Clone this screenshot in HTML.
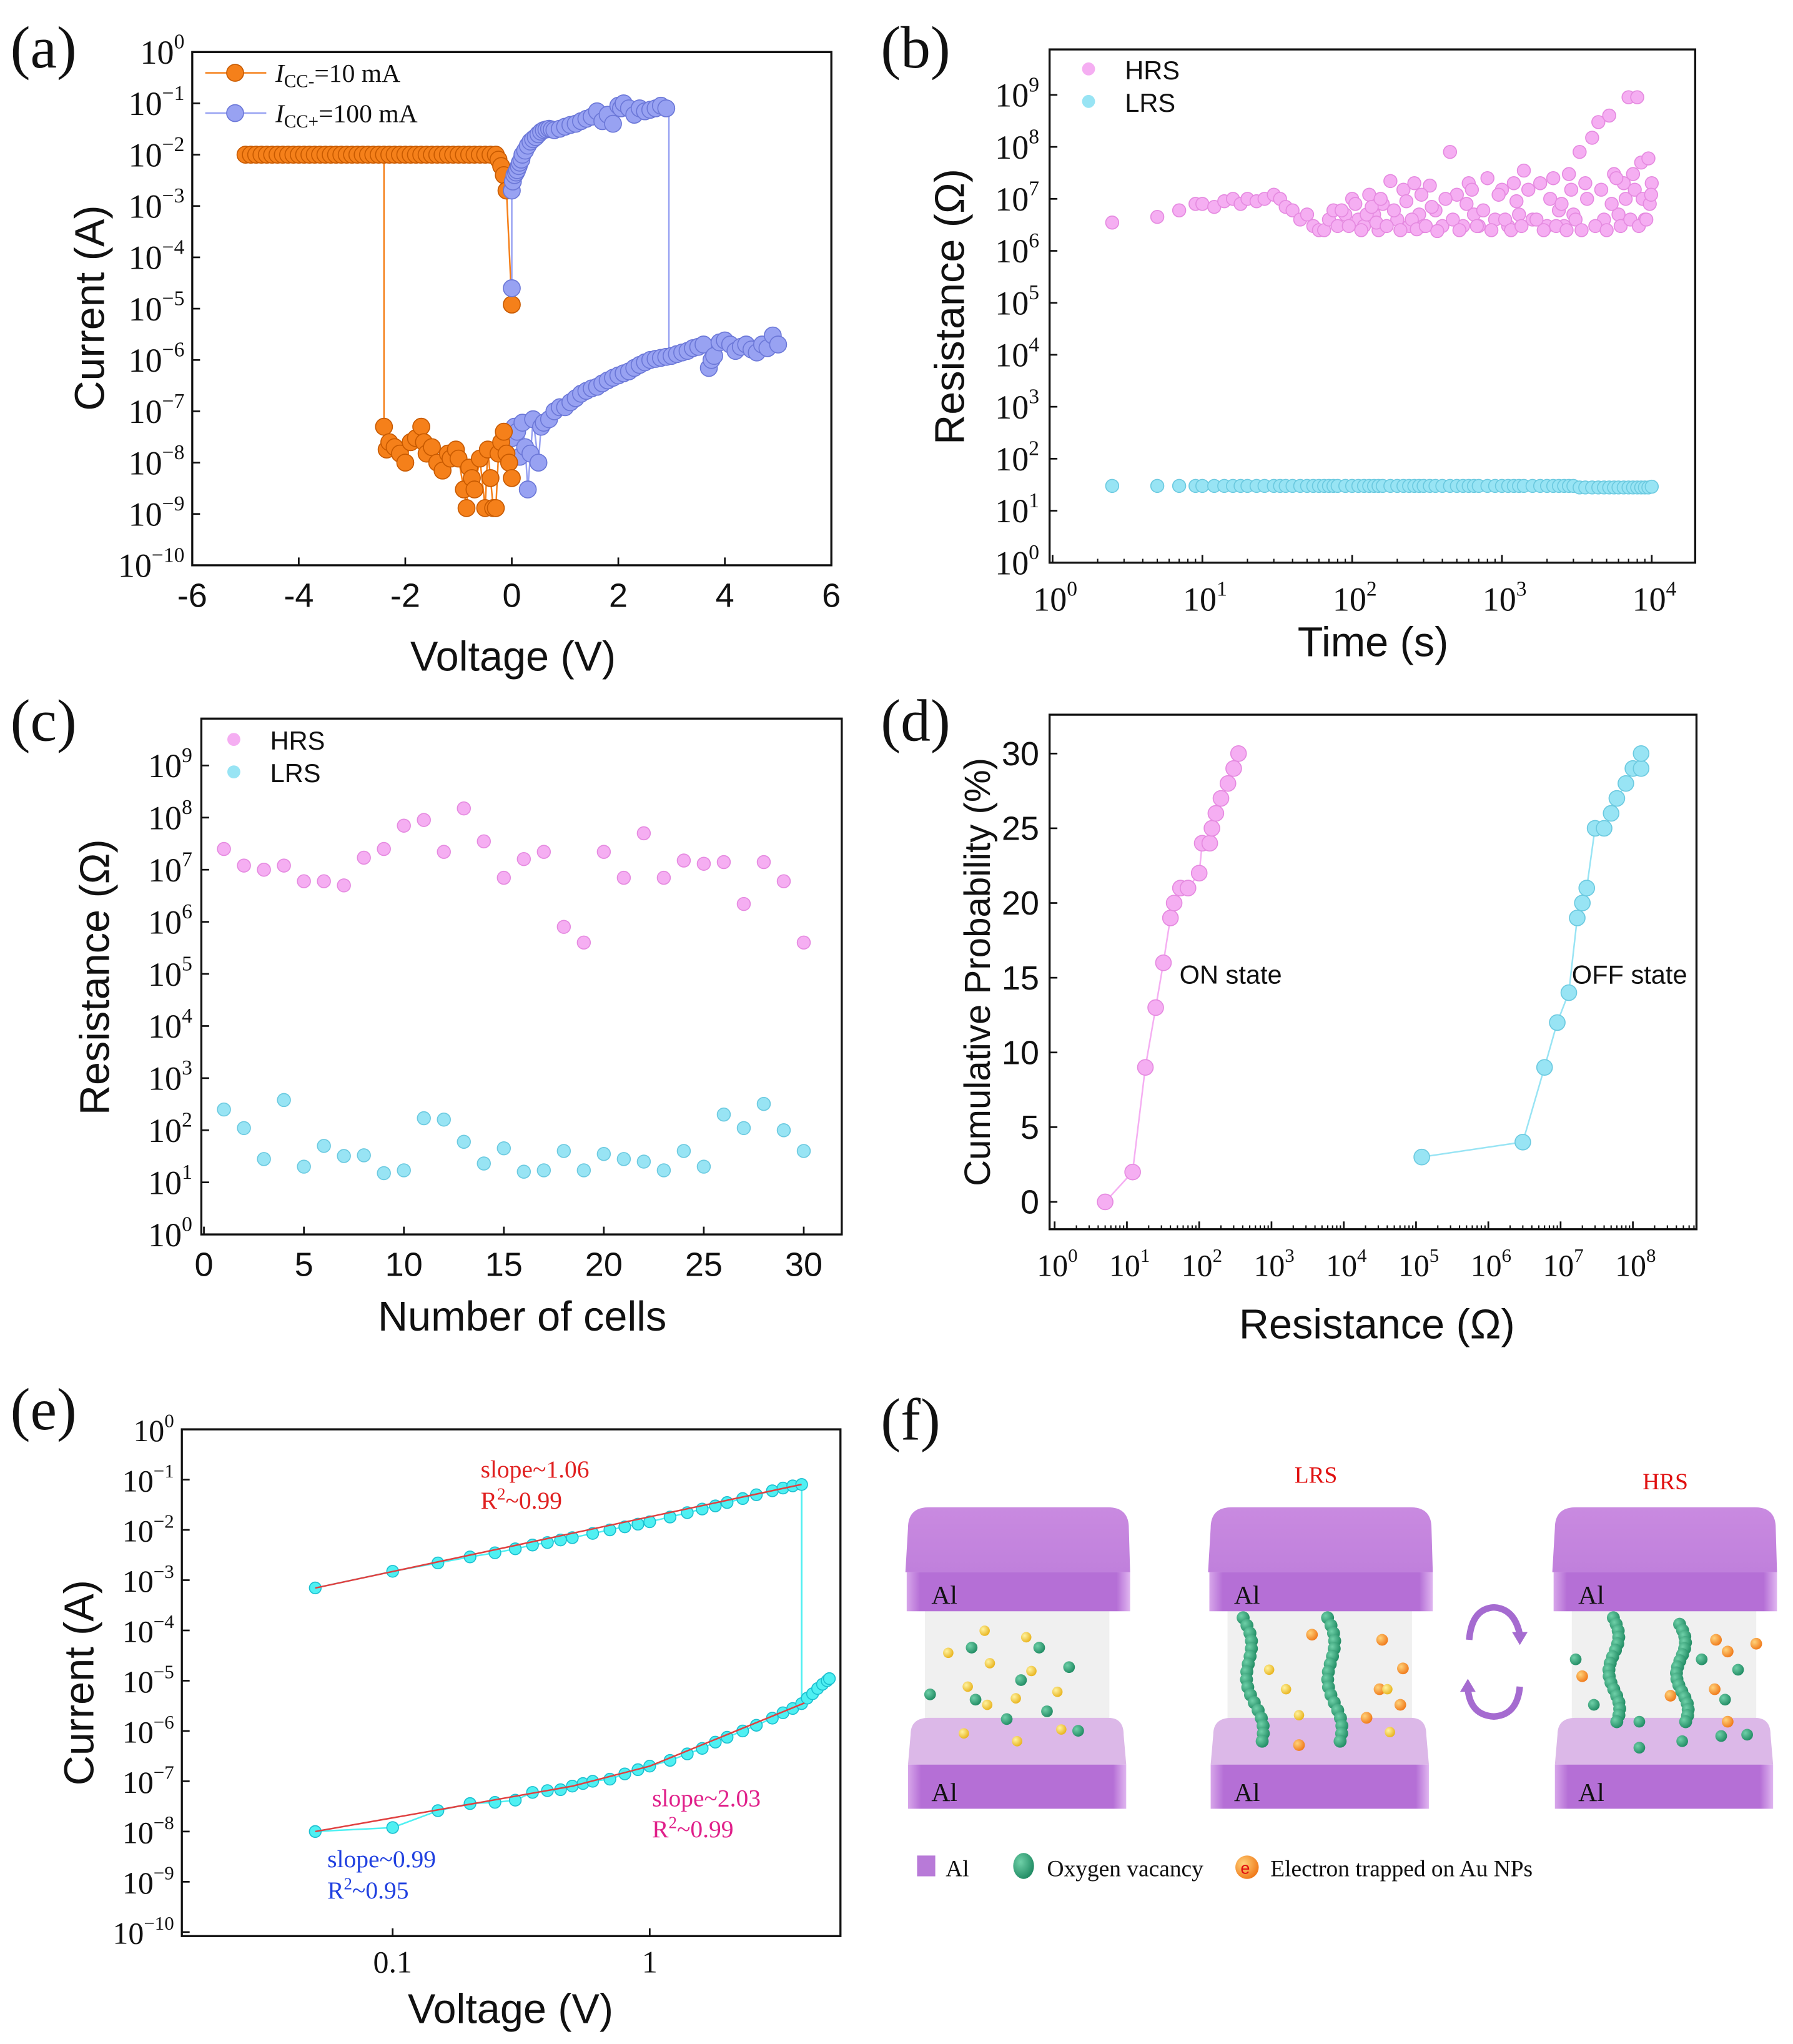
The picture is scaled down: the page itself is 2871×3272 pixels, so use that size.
<!DOCTYPE html>
<html><head><meta charset="utf-8">
<style>
html,body{margin:0;padding:0;background:#fff;}
svg{display:block;}
</style></head>
<body>
<svg id="fig" xmlns="http://www.w3.org/2000/svg" width="2871" height="3272" viewBox="0 0 1380.3 1573" font-family="'Liberation Sans',sans-serif">
<defs>
<linearGradient id="capTop" x1="0" y1="0" x2="0" y2="1"><stop offset="0" stop-color="#c98ae0"/><stop offset="1" stop-color="#c080dc"/></linearGradient>
<linearGradient id="capFront" x1="0" y1="0" x2="1" y2="0"><stop offset="0" stop-color="#d7a6ea"/><stop offset="0.06" stop-color="#b56fd6"/><stop offset="0.94" stop-color="#b56fd6"/><stop offset="1" stop-color="#e0b6f0"/></linearGradient>
<radialGradient id="gball" cx="0.35" cy="0.35" r="0.7"><stop offset="0" stop-color="#6fd0a8"/><stop offset="1" stop-color="#1f8a62"/></radialGradient>
<radialGradient id="yball" cx="0.35" cy="0.35" r="0.7"><stop offset="0" stop-color="#fff3a0"/><stop offset="1" stop-color="#e8b21a"/></radialGradient>
<radialGradient id="oball" cx="0.35" cy="0.35" r="0.7"><stop offset="0" stop-color="#ffd27a"/><stop offset="1" stop-color="#f07818"/></radialGradient>
</defs>
</svg>
<script>
// ---------------- DATA ----------------
// (a)
const aOrangeV = [-5,-4.9,-4.8,-4.7,-4.6,-4.5,-4.4,-4.3,-4.2,-4.1,-4,-3.9,-3.8,-3.7,-3.6,-3.5,-3.4,-3.3,-3.2,-3.1,-3,-2.9,-2.8,-2.7,-2.6,-2.5,-2.4,-2.3,-2.2,-2.1,-2,-1.9,-1.8,-1.7,-1.6,-1.5,-1.4,-1.3,-1.2,-1.1,-1,-0.9,-0.8,-0.7,-0.6,-0.5,-0.4,-0.3,-0.25,-0.2,-0.15,-0.1,0];
const aOrangeI = [1e-2,1e-2,1e-2,1e-2,1e-2,1e-2,1e-2,1e-2,1e-2,1e-2,1e-2,1e-2,1e-2,1e-2,1e-2,1e-2,1e-2,1e-2,1e-2,1e-2,1e-2,1e-2,1e-2,1e-2,1e-2,1e-2,1e-2,1e-2,1e-2,1e-2,1e-2,1e-2,1e-2,1e-2,1e-2,1e-2,1e-2,1e-2,1e-2,1e-2,1e-2,1e-2,1e-2,1e-2,1e-2,1e-2,1e-2,1e-2,8e-3,6e-3,4e-3,2e-3,1.2e-5];
const aOrangeLowV = [-2.4,-2.35,-2.3,-2.2,-2.1,-2.0,-1.9,-1.8,-1.7,-1.65,-1.6,-1.5,-1.4,-1.3,-1.2,-1.15,-1.05,-1.0,-0.9,-0.85,-0.8,-0.75,-0.7,-0.6,-0.5,-0.45,-0.4,-0.35,-0.3,-0.25,-0.2,-0.15,-0.1,-0.05,0];
const aOrangeLowI = [5e-8,1.8e-8,2.5e-8,2e-8,1.5e-8,1e-8,2.5e-8,3e-8,5e-8,2.5e-8,1.5e-8,2e-8,1e-8,7e-9,1.5e-8,1.2e-8,1.8e-8,1.2e-8,3e-9,1.3e-9,8e-9,5e-9,3e-9,1.2e-8,1.3e-9,1.8e-8,5e-9,1.3e-9,1.3e-9,1.5e-8,2.5e-8,4e-8,1.5e-8,1e-8,5e-9];
const aBlueUpV = [0,0,0.02,0.05,0.08,0.1,0.13,0.15,0.18,0.2,0.25,0.3,0.35,0.4,0.45,0.5,0.55,0.6,0.65,0.7,0.75,0.8,0.9,1.0,1.1,1.2,1.3,1.4,1.5,1.6,1.7,1.8,1.9,2.0,2.05,2.1,2.2,2.3,2.4,2.5,2.6,2.7,2.8,2.9];
const aBlueUpI = [2.5e-5,2e-3,3e-3,4e-3,4.5e-3,5e-3,6e-3,7e-3,8e-3,1e-2,1.2e-2,1.5e-2,1.8e-2,2e-2,2.2e-2,2.5e-2,2.8e-2,3e-2,3.1e-2,3.2e-2,3.1e-2,3e-2,3.2e-2,3.5e-2,3.8e-2,4e-2,4.5e-2,5e-2,5.5e-2,7e-2,4.5e-2,6e-2,4e-2,9e-2,8e-2,1e-1,8e-2,6e-2,8e-2,7e-2,7.5e-2,8e-2,9e-2,8e-2];
const aBlueLowV = [0,0.05,0.1,0.15,0.2,0.25,0.3,0.35,0.4,0.5,0.55,0.6,0.7,0.8,0.9,1.0,1.1,1.2,1.3,1.4,1.5,1.6,1.7,1.8,1.9,2.0,2.1,2.2,2.3,2.4,2.5,2.6,2.7,2.8,2.9,3.0,3.1,3.2,3.3,3.4,3.5,3.6,3.7,3.75,3.8,3.9,4.0,4.1,4.2,4.3,4.4,4.5,4.6,4.7,4.8,4.9,5.0];
const aBlueLowI = [3e-8,5e-8,4e-8,1.3e-8,6e-8,2e-8,3e-9,1.5e-8,7e-8,1e-8,5e-8,6e-8,7e-8,1e-7,1.2e-7,1.2e-7,1.5e-7,1.8e-7,2.2e-7,2.5e-7,2.8e-7,3e-7,3.5e-7,4e-7,4.5e-7,5e-7,5.5e-7,6e-7,7e-7,8e-7,9e-7,1e-6,1.05e-6,1.1e-6,1.15e-6,1.2e-6,1.3e-6,1.4e-6,1.5e-6,1.7e-6,1.8e-6,2e-6,7e-7,1e-6,1.2e-6,2.2e-6,2.4e-6,2e-6,1.5e-6,1.8e-6,2e-6,1.6e-6,1.4e-6,2e-6,1.7e-6,3e-6,2e-6];
// (b)
const bTime = [2.5,5,7,9,10,12,14,16,18,20,23,26,30,33,36,40,45,50,55,60,65,70,75,80,90,100,110,120,130,140,150,160,180,200,220,240,260,280,300,330,360,400,450,500,550,600,650,700,800,900,1000,1100,1200,1300,1400,1600,1800,2000,2200,2400,2600,2800,3000,3300,3600,4000,4400,4800,5200,5600,6000,6500,7000,7500,8000,8500,9000,9500,10000];
const bHRS = [3.5e6,4.5e6,6e6,8e6,8e6,7e6,9e6,1e7,8e6,1e7,9e6,1e7,1.2e7,1e7,7e6,6e6,4e6,5e6,3e6,2.5e6,2.5e6,4e6,6e6,3e6,5e6,1e7,4e6,3e6,1.2e7,5e6,2.5e6,8e6,2.2e7,4e6,1.5e7,3e6,2e7,5e6,3e6,1.8e7,6e6,3e6,8e7,1.2e7,3e6,2e7,5e6,3e6,2.5e7,4e6,1.5e7,3e6,2e7,5e6,3.5e7,4e6,2e7,3e6,2.5e7,6e6,3e6,3e7,5e6,8e7,2e7,1.5e8,3e8,4e6,4e8,3e7,5e6,2e7,9e8,3e7,9e8,5e7,4e6,6e7,2e7];
const bTime2 = [85,95,105,115,125,135,145,155,170,190,210,230,250,270,290,310,340,370,420,470,520,580,630,680,750,850,950,1050,1150,1250,1350,1500,1700,1900,2100,2300,2500,2700,2900,3100,3400,3700,4200,4600,5000,5400,5800,6200,6700,7200,7700,8200,8700,9200,9700,9900];
const bHRS2 = [6e6,3e6,8e6,2.5e6,5e6,7e6,3.5e6,1e7,3e6,6e6,2.5e6,9e6,4e6,2.6e6,1.2e7,3e6,7e6,2.4e6,1e7,4e6,2.5e6,8e6,1.5e7,3e6,6e6,2.5e6,1.2e7,4e6,2.5e6,9e6,3e6,1.5e7,4e6,2.5e6,1e7,3e6,8e6,2.5e6,1.5e7,4e6,2.5e6,1e7,3e6,1.5e7,2.5e6,8e6,2.5e7,3e6,1e7,4e6,1.5e7,3e6,1e7,4e6,8e6,1.2e7];
const bLRS = [30,30,30,30,30,30,30,30,30,30,30,30,30,30,30,30,30,30,30,30,30,30,30,30,30,30,30,30,30,30,30,30,30,30,30,30,30,30,30,30,30,30,30,30,30,30,30,30,30,30,30,30,30,30,30,30,30,30,30,30,30,30,30,28,28,28,28,28,28,28,28,28,28,28,28,28,28,28,29];
// (c)
const cCells = [1,2,3,4,5,6,7,8,9,10,11,12,13,14,15,16,17,18,19,20,21,22,23,24,25,26,27,28,29,30];
const cHRS = [2.5e7,1.2e7,1e7,1.2e7,6e6,6e6,5e6,1.7e7,2.5e7,7e7,9e7,2.2e7,1.5e8,3.5e7,7e6,1.6e7,2.2e7,8e5,4e5,2.2e7,7e6,5e7,7e6,1.5e7,1.3e7,1.4e7,2.2e6,1.4e7,6e6,4e5];
const cLRS = [250,110,28,380,20,50,32,33,15,17,170,160,60,23,45,16,17,40,17,35,28,25,17,40,20,200,110,320,100,40];
// (d)
const dOnR = [5,12,18,25,32,40,45,55,70,100,110,140,150,170,200,250,300,350];
const dOnP = [0,2,9,13,16,19,20,21,21,22,24,24,25,26,27,28,29,30];
const dOffR = [1.2e5,3e6,6e6,9e6,1.3e7,1.7e7,2e7,2.3e7,3e7,4e7,5e7,6e7,8e7,1e8,1.3e8,1.3e8];
const dOffP = [3,4,9,12,14,19,20,21,25,25,26,27,28,29,29,30];
// (e)
const eUpV = [0.05,0.1,0.15,0.2,0.25,0.3,0.35,0.4,0.45,0.5,0.6,0.7,0.8,0.9,1.0,1.2,1.4,1.6,1.8,2.0,2.3,2.6,3.0,3.3,3.6,3.9];
const eUpI = [7e-4,1.5e-3,2.2e-3,2.9e-3,3.5e-3,4.2e-3,5e-3,5.6e-3,6.3e-3,7e-3,8.5e-3,1e-2,1.15e-2,1.3e-2,1.45e-2,1.8e-2,2.2e-2,2.6e-2,3e-2,3.5e-2,4.2e-2,5e-2,6e-2,6.8e-2,7.5e-2,8e-2];
const eLowV = [0.05,0.1,0.15,0.2,0.25,0.3,0.35,0.4,0.45,0.5,0.55,0.6,0.7,0.8,0.9,1.0,1.2,1.4,1.6,1.8,2.0,2.3,2.6,3.0,3.3,3.6,3.9,4.1,4.3,4.5,4.7,4.9,5.0];
const eLowI = [1e-8,1.2e-8,2.6e-8,3.6e-8,3.8e-8,4.2e-8,6e-8,6.5e-8,6.8e-8,8e-8,9e-8,1e-7,1.1e-7,1.4e-7,1.7e-7,2e-7,2.6e-7,3.5e-7,4.5e-7,6e-7,7.5e-7,1e-6,1.3e-6,1.8e-6,2.3e-6,2.8e-6,3.5e-6,4.5e-6,5.5e-6,7e-6,8.5e-6,1e-5,1.1e-5];
const eFitUpV = [0.05,3.9];
const eFitUpI = [7e-4,8e-2];
const eFitLowV = [0.05,0.5,1,4];
const eFitLowI = [1e-8,8e-8,2e-7,3.6e-6];

// ---------------- HELPERS ----------------
const NS = "http://www.w3.org/2000/svg";
const svg = document.getElementById('fig');
const SERIF = "'Liberation Serif',serif";
function mk(tag, attrs, parent, name, inter) {
  const el = document.createElementNS(NS, tag);
  for (const k in attrs) el.setAttribute(k, attrs[k]);
  
  
  (parent || svg).appendChild(el);
  return el;
}
function txt(s, x, y, size, parent, name, extra) {
  const a = Object.assign({x: x, y: y, 'font-size': size, fill: '#111'}, extra || {});
  const t = mk('text', a, parent, name);
  t.textContent = s;
  return t;
}
function pow10(exp, x, y, size, parent, name, anchor) {
  const t = mk('text', {x: x, y: y, 'font-size': size, fill: '#111', 'text-anchor': anchor || 'end', 'font-family': SERIF}, parent, name);
  const a = document.createElementNS(NS, 'tspan'); a.textContent = '10'; t.appendChild(a);
  const b = document.createElementNS(NS, 'tspan');
  b.setAttribute('dy', -size * 0.45); b.setAttribute('font-size', size * 0.62);
  b.textContent = exp < 0 ? '\u2212' + (-exp) : String(exp); t.appendChild(b);
  return t;
}
function makeAxes(c) {
  const lg = v => Math.log10(v);
  c.sx = v => c.x0 + ((c.xlog ? lg(v) : v) - c.xmin) / (c.xmax - c.xmin) * (c.x1 - c.x0);
  c.sy = v => c.y1 - ((c.ylog ? lg(v) : v) - c.ymin) / (c.ymax - c.ymin) * (c.y1 - c.y0);
  c.g = mk('g', {}, svg, c.name);
  mk('rect', {x: c.x0, y: c.y0, width: c.x1 - c.x0, height: c.y1 - c.y0, fill: 'none', stroke: '#111', 'stroke-width': 1.6}, c.g, c.name + '-frame');
  return c;
}
function series(c, xs, ys, color, stroke, r, name, line) {
  const g = mk('g', {}, c.g, name);
  if (line) {
    let d = '';
    xs.forEach((x, i) => { d += (i ? 'L' : 'M') + c.sx(x).toFixed(1) + ' ' + c.sy(ys[i]).toFixed(1); });
    mk('path', {d: d, fill: 'none', stroke: line, 'stroke-width': 1.2}, g, name + '-line');
  }
  xs.forEach((x, i) => {
    mk('circle', {cx: c.sx(x), cy: c.sy(ys[i]), r: r, fill: color, stroke: stroke, 'stroke-width': 0.8}, g, name + '-point');
  });
  return g;
}
function logYTicks(c, from, to, step, lx, size) {
  for (let e = from; e <= to; e += step) {
    const y = c.sy(Math.pow(10, e));
    mk('line', {x1: c.x0, x2: c.x0 + 6, y1: y, y2: y, stroke: '#111', 'stroke-width': 1.3}, c.g, 'y-tick');
    pow10(e, lx, y + 9, size, c.g, 'y-tick-label');
  }
}
function linXTicks(c, vals, size, ly) {
  vals.forEach(v => {
    const x = c.sx(v);
    mk('line', {x1: x, x2: x, y1: c.y1, y2: c.y1 - 6, stroke: '#111', 'stroke-width': 1.3}, c.g, 'x-tick');
    txt(v < 0 ? '-' + (-v) : String(v), x, ly, size, c.g, 'x-tick-label', {'text-anchor': 'middle'});
  });
}
function logXTicks(c, from, to, size, ly) {
  for (let e = from; e <= to; e++) {
    const x = c.sx(Math.pow(10, e));
    mk('line', {x1: x, x2: x, y1: c.y1, y2: c.y1 - 6, stroke: '#111', 'stroke-width': 1.3}, c.g, 'x-tick');
    for (let m = 2; m < 10; m++) {
      const xm = c.sx(m * Math.pow(10, e));
      if (xm < c.x1) mk('line', {x1: xm, x2: xm, y1: c.y1, y2: c.y1 - 3, stroke: '#111', 'stroke-width': 1}, c.g, 'x-minor-tick');
    }
    pow10(e, x + 2, ly, size, c.g, 'x-tick-label', 'middle');
  }
}
function title(s, x, y, size, rot, name, parent) {
  const extra = {'text-anchor': 'middle'};
  if (rot) extra.transform = 'rotate(-90 ' + x + ' ' + y + ')';
  return txt(s, x, y, size, parent || svg, name, extra);
}
function panelLabel(s, x, y) {
  txt(s, x, y, 46, svg, 'panel-label-' + s.replace(/[()]/g, ''), {'font-family': SERIF});
}

const OR = '#f5801a', ORs = '#c85a00', BL = '#98a2f2', BLs = '#6c78d8', PK = '#f5aef2', PKs = '#e58ae0', CY = '#98e4f4', CYs = '#6ccae0', EC = '#4ff0f2', ECs = '#1cc0d0';

// ---------------- PANEL A ----------------
const A = makeAxes({name: 'panel-a-iv-chart', x0: 148, x1: 640, y0: 40, y1: 435, xmin: -6, xmax: 6, xlog: false, ymin: -10, ymax: 0, ylog: true});
logYTicks(A, -10, 0, 1, 142, 26);
linXTicks(A, [-6, -4, -2, 0, 2, 4, 6], 26, 467);
mk('line', {x1: A.sx(-2.4), x2: A.sx(-2.4), y1: A.sy(1e-2), y2: A.sy(5e-8), stroke: OR, 'stroke-width': 1.2}, A.g, 'reset-transition-line');
mk('line', {x1: A.sx(2.95), x2: A.sx(2.95), y1: A.sy(8e-2), y2: A.sy(1e-6), stroke: BL, 'stroke-width': 1.2}, A.g, 'set-transition-line');
series(A, aBlueLowV, aBlueLowI, BL, BLs, 6.5, 'series-100ma-low', BL);
series(A, aOrangeLowV, aOrangeLowI, OR, ORs, 6.5, 'series-10ma-low', OR);
series(A, aOrangeV, aOrangeI, OR, ORs, 6.5, 'series-10ma-high', OR);
series(A, aBlueUpV, aBlueUpI, BL, BLs, 6.5, 'series-100ma-high', BL);
(function () {
  const g = mk('g', {}, A.g, 'legend');
  [[56, OR, ORs, '=10 mA', 'CC-'], [87, BL, BLs, '=100 mA', 'CC+']].forEach(r => {
    mk('line', {x1: 158, x2: 205, y1: r[0], y2: r[0], stroke: r[1], 'stroke-width': 1.2}, g, 'legend-line');
    mk('circle', {cx: 181, cy: r[0], r: 6.5, fill: r[1], stroke: r[2], 'stroke-width': 0.8}, g, 'legend-marker');
    const t = mk('text', {x: 212, y: r[0] + 7, 'font-size': 20, fill: '#111', 'font-family': SERIF}, g, 'legend-entry');
    const s1 = document.createElementNS(NS, 'tspan'); s1.setAttribute('font-style', 'italic'); s1.textContent = 'I'; t.appendChild(s1);
    const s2 = document.createElementNS(NS, 'tspan'); s2.setAttribute('font-size', 14); s2.setAttribute('dy', 4); s2.textContent = r[4]; t.appendChild(s2);
    const s3 = document.createElementNS(NS, 'tspan'); s3.setAttribute('dy', -4); s3.textContent = r[3]; t.appendChild(s3);
  });
})();
title('Voltage (V)', 395, 516, 32, false, 'x-axis-title-a');
title('Current (A)', 80, 237, 32, true, 'y-axis-title-a');
panelLabel('(a)', 8, 52);

// ---------------- PANEL B ----------------
const B = makeAxes({name: 'panel-b-retention-chart', x0: 808, x1: 1305, y0: 38, y1: 433, xmin: -0.02, xmax: 4.29, xlog: true, ymin: 0, ymax: 9.875, ylog: true});
logYTicks(B, 0, 9, 1, 800, 26);
logXTicks(B, 0, 4, 26, 470);
series(B, bTime, bLRS, CY, CYs, 5, 'series-lrs-retention');
series(B, bTime, bHRS, PK, PKs, 5, 'series-hrs-retention');
series(B, bTime2, bHRS2, PK, PKs, 5, 'series-hrs-retention-extra');
(function () {
  const g = mk('g', {}, B.g, 'legend');
  mk('circle', {cx: 838, cy: 53, r: 5, fill: PK}, g, 'legend-marker-hrs');
  txt('HRS', 866, 61, 20, g, 'legend-entry-hrs');
  mk('circle', {cx: 838, cy: 78, r: 5, fill: CY}, g, 'legend-marker-lrs');
  txt('LRS', 866, 86, 20, g, 'legend-entry-lrs');
})();
title('Time (s)', 1057, 505, 32, false, 'x-axis-title-b');
title('Resistance (\u03A9)', 742, 236, 32, true, 'y-axis-title-b');
panelLabel('(b)', 678, 52);

// ---------------- PANEL C ----------------
const C = makeAxes({name: 'panel-c-cell-variation-chart', x0: 155, x1: 648, y0: 553, y1: 950, xmin: -0.13, xmax: 31.9, xlog: false, ymin: 0, ymax: 9.9, ylog: true});
logYTicks(C, 0, 9, 1, 148, 26);
linXTicks(C, [0, 5, 10, 15, 20, 25, 30], 26, 982);
series(C, cCells, cHRS, PK, PKs, 5, 'series-hrs-cells');
series(C, cCells, cLRS, CY, CYs, 5, 'series-lrs-cells');
(function () {
  const g = mk('g', {}, C.g, 'legend');
  mk('circle', {cx: 180, cy: 569, r: 5, fill: PK}, g, 'legend-marker-hrs');
  txt('HRS', 208, 577, 20, g, 'legend-entry-hrs');
  mk('circle', {cx: 180, cy: 594, r: 5, fill: CY}, g, 'legend-marker-lrs');
  txt('LRS', 208, 602, 20, g, 'legend-entry-lrs');
})();
title('Number of cells', 402, 1024, 32, false, 'x-axis-title-c');
title('Resistance (\u03A9)', 84, 752, 32, true, 'y-axis-title-c');
panelLabel('(c)', 8, 570);

// ---------------- PANEL D ----------------
const D = makeAxes({name: 'panel-d-cumulative-chart', x0: 808, x1: 1306, y0: 550, y1: 946, xmin: -0.07, xmax: 8.88, xlog: true, ymin: -1.83, ymax: 32.6, ylog: false});
[0, 5, 10, 15, 20, 25, 30].forEach(v => {
  const y = D.sy(v);
  mk('line', {x1: D.x0, x2: D.x0 + 6, y1: y, y2: y, stroke: '#111', 'stroke-width': 1.3}, D.g, 'y-tick');
  txt(String(v), 800, y + 9, 26, D.g, 'y-tick-label', {'text-anchor': 'end'});
});
logXTicks(D, 0, 8, 24, 982);
series(D, dOnR, dOnP, PK, PKs, 6, 'series-on-state', PK);
series(D, dOffR, dOffP, CY, CYs, 6, 'series-off-state', CY);
txt('ON state', 908, 757, 20, D.g, 'annotation-on-state');
txt('OFF state', 1210, 757, 20, D.g, 'annotation-off-state');
title('Resistance (\u03A9)', 1060, 1030, 32, false, 'x-axis-title-d');
title('Cumulative Probability (%)', 762, 748, 28, true, 'y-axis-title-d');
panelLabel('(d)', 678, 570);

// ---------------- PANEL E ----------------
const E = makeAxes({name: 'panel-e-fitting-chart', x0: 140, x1: 647, y0: 1100, y1: 1490, xmin: -1.82, xmax: 0.742, xlog: true, ymin: -10.08, ymax: 0, ylog: true});
logYTicks(E, -10, 0, 1, 134, 24);
[[0.1, '0.1'], [1, '1']].forEach(p => {
  const x = E.sx(p[0]);
  mk('line', {x1: x, x2: x, y1: E.y1, y2: E.y1 - 6, stroke: '#111', 'stroke-width': 1.3}, E.g, 'x-tick');
  txt(p[1], x, 1518, 24, E.g, 'x-tick-label', {'text-anchor': 'middle', 'font-family': SERIF});
});
mk('line', {x1: E.sx(3.9), x2: E.sx(3.9), y1: E.sy(8e-2), y2: E.sy(3.5e-6), stroke: EC, 'stroke-width': 1.3}, E.g, 'set-transition-line');
series(E, eUpV, eUpI, EC, ECs, 4.5, 'series-lrs-iv', EC);
series(E, eLowV, eLowI, EC, ECs, 4.5, 'series-hrs-iv', EC);
series(E, eFitUpV, eFitUpI, 'none', 'none', 0, 'fit-lrs', '#e04040');
series(E, eFitLowV, eFitLowI, 'none', 'none', 0, 'fit-hrs', '#e04040');
function ann(l1, r2, x, y, color, name) {
  const g = mk('g', {}, E.g, name);
  const t1 = mk('text', {x: x, y: y, 'font-size': 19, fill: color, 'font-family': SERIF}, g, name + '-slope');
  t1.textContent = l1;
  const t = mk('text', {x: x, y: y + 24, 'font-size': 19, fill: color, 'font-family': SERIF}, g, name + '-r2');
  const a = document.createElementNS(NS, 'tspan'); a.textContent = 'R'; t.appendChild(a);
  const b = document.createElementNS(NS, 'tspan'); b.setAttribute('dy', -7); b.setAttribute('font-size', 13); b.textContent = '2'; t.appendChild(b);
  const c = document.createElementNS(NS, 'tspan'); c.setAttribute('dy', 7); c.textContent = r2; t.appendChild(c);
}
ann('slope~1.06', '~0.99', 370, 1137, '#e02020', 'annotation-slope-106');
ann('slope~2.03', '~0.99', 502, 1390, '#e0208a', 'annotation-slope-203');
ann('slope~0.99', '~0.95', 252, 1437, '#2040e0', 'annotation-slope-099');
title('Voltage (V)', 393, 1557, 32, false, 'x-axis-title-e');
title('Current (A)', 72, 1295, 32, true, 'y-axis-title-e');
panelLabel('(e)', 8, 1100);

// ---------------- PANEL F (schematic) ----------------
panelLabel('(f)', 678, 1108);
const F = mk('g', {}, svg, 'panel-f-schematic');
function device(x, name) {
  const g = mk('g', {}, F, name);
  const w = 172;
  mk('rect', {x: x + 15, y: 1238, width: w - 30, height: 90, fill: '#ececec', opacity: 0.8}, g, 'switching-layer');
  mk('path', {d: `M${x + 4} 1335 Q${x + 4} 1322 ${x + 18} 1322 L${x + w - 16} 1322 Q${x + w - 4} 1322 ${x + w - 4} 1335 L${x + w - 2} 1358 L${x + 2} 1358 Z`, fill: '#dcb8e8'}, g, 'bottom-electrode-top');
  mk('rect', {x: x + 2, y: 1358, width: w - 4, height: 34, fill: 'url(#capFront)'}, g, 'bottom-electrode-front');
  txt('Al', x + 20, 1386, 20, g, 'electrode-label', {'font-family': SERIF});
  mk('path', {d: `M${x + 2} 1176 Q${x + 2} 1160 ${x + 18} 1160 L${x + w - 16} 1160 Q${x + w} 1160 ${x + w} 1176 L${x + w + 1} 1210 L${x} 1210 Z`, fill: 'url(#capTop)'}, g, 'top-electrode-top');
  mk('rect', {x: x + 1, y: 1210, width: w, height: 30, fill: 'url(#capFront)'}, g, 'top-electrode-front');
  txt('Al', x + 20, 1234, 20, g, 'electrode-label', {'font-family': SERIF});
  return g;
}
const d1 = device(697, 'device-pristine');
const d2 = device(930, 'device-lrs');
const d3 = device(1195, 'device-hrs');
function balls(g, pts, fill, r) { pts.forEach(p => mk('circle', {cx: p[0], cy: p[1], r: r, fill: fill}, g, 'particle')); }
balls(d1, [[758,1255],[790,1260],[730,1272],[762,1280],[794,1286],[745,1298],[760,1312],[782,1307],[814,1302],[783,1340],[817,1331],[742,1334]], 'url(#yball)', 4);
balls(d1, [[748,1268],[800,1268],[823,1283],[716,1304],[786,1293],[751,1308],[806,1317],[775,1323],[830,1332]], 'url(#gball)', 4.5);
function filament(g, x0, y0, x1, y1) {
  for (let i = 0; i <= 16; i++) {
    const t = i / 16;
    mk('circle', {cx: x0 + (x1 - x0) * t + Math.sin(t * 9) * 4, cy: y0 + (y1 - y0) * t, r: 5, fill: 'url(#gball)'}, g, 'oxygen-vacancy-filament');
  }
}
filament(d2, 957, 1245, 970, 1340); filament(d2, 1022, 1245, 1030, 1340);
filament(d3, 1242, 1245, 1243, 1325); filament(d3, 1293, 1250, 1296, 1325);
balls(d2, [[1064,1262],[1080,1284],[1062,1300],[1078,1312],[1052,1322],[1000,1343],[1010,1258]], 'url(#oball)', 4.5);
balls(d2, [[977,1285],[990,1300],[1000,1320],[1070,1333],[1068,1300]], 'url(#yball)', 4);
balls(d3, [[1321,1262],[1330,1271],[1352,1265],[1218,1290],[1320,1300],[1330,1325],[1286,1305]], 'url(#oball)', 4.5);
balls(d3, [[1213,1277],[1310,1277],[1338,1285],[1227,1312],[1262,1325],[1328,1308],[1262,1345],[1295,1340],[1325,1336],[1345,1335]], 'url(#gball)', 4.5);
txt('LRS', 1013, 1141, 18, F, 'lrs-label', {'text-anchor': 'middle', fill: '#e01010', 'font-family': SERIF});
txt('HRS', 1282, 1146, 18, F, 'hrs-label', {'text-anchor': 'middle', fill: '#e01010', 'font-family': SERIF});
mk('path', {d: 'M1131 1262 Q1133 1238 1150 1237 Q1166 1238 1170 1258', fill: 'none', stroke: '#a56bd0', 'stroke-width': 5}, F, 'cycle-arrow-top');
mk('path', {d: 'M1164 1256 L1176 1256 L1170 1266 Z', fill: '#a56bd0'}, F, 'cycle-arrow-head');
mk('path', {d: 'M1170 1298 Q1168 1320 1150 1321 Q1132 1320 1130 1300', fill: 'none', stroke: '#a56bd0', 'stroke-width': 5}, F, 'cycle-arrow-bottom');
mk('path', {d: 'M1124 1302 L1136 1302 L1130 1292 Z', fill: '#a56bd0'}, F, 'cycle-arrow-head');
const FL = mk('g', {}, F, 'schematic-legend');
mk('rect', {x: 706, y: 1428, width: 14, height: 16, fill: '#b87ad8'}, FL, 'legend-swatch-al');
txt('Al', 728, 1444, 18, FL, 'legend-entry-al', {'font-family': SERIF});
mk('ellipse', {cx: 788, cy: 1436, rx: 8, ry: 10, fill: 'url(#gball)'}, FL, 'legend-swatch-oxygen-vacancy');
txt('Oxygen vacancy', 806, 1444, 18, FL, 'legend-entry-oxygen-vacancy', {'font-family': SERIF});
mk('circle', {cx: 960, cy: 1437, r: 9, fill: 'url(#oball)'}, FL, 'legend-swatch-electron');
txt('e', 955, 1442, 13, FL, 'legend-swatch-electron-glyph', {fill: '#e01010'});
txt('Electron trapped on Au NPs', 978, 1444, 18, FL, 'legend-entry-electron', {'font-family': SERIF});
</script>
</body></html>
